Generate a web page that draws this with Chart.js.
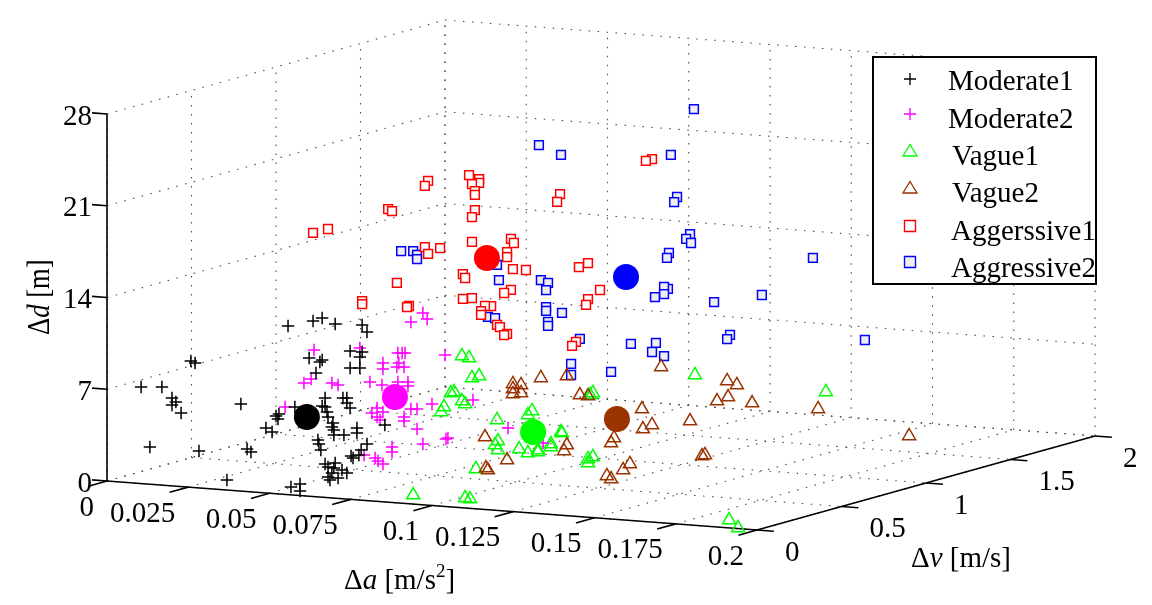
<!DOCTYPE html>
<html>
<head>
<meta charset="utf-8">
<title>Driving style clusters</title>
<script src="https://cdn.jsdelivr.net/npm/chart.js@4/dist/chart.umd.min.js"></script>
<style>
  html, body { margin: 0; padding: 0; background: #fff; }
  canvas { display: block; }
</style>
</head>
<body>
<canvas id="myChart" width="1152" height="605"></canvas>
<script>
// tick values and labels
const aTicks = [0, 0.025, 0.05, 0.075, 0.1, 0.125, 0.15, 0.175, 0.2];
const aTickLabels = ['0', '0.025', '0.05', '0.075', '0.1', '0.125', '0.15', '0.175', '0.2'];
const vTicks = [0, 0.5, 1, 1.5, 2];
const vTickLabels = ['0', '0.5', '1', '1.5', '2'];
const dTicks = [0, 7, 14, 21, 28];
const dTickLabels = ['0', '7', '14', '21', '28'];

// Moderate1
const moderate1A = [.0105,.0169,.0200,.0212,.0200,.0228,.0258,.0271,.0412,.0132,.0283,.0431,.0443,.0369,.0566,.0594,.0594,.0489,.0508,.0520,.0529,.0526,.0557,.0634,.0662,.0702,.0785,.0800,.0748,.0785,.0778,.0748,.0778,.0622,.0655,.0662,.0643,.0578,.0671,.0662,.0671,.0677,.0680,.0695,.0692,.0698,.0698,.0729,.0726,.0738,.0738,.0748,.0769,.0769,.0855,.0649,.0652,.0658,.0800,.0782,.0775,.0751,.0757,.0671,.0702,.0698,.0680,.0723,.0738,.0692,.0680,.0711,.0686];
const moderate1V = 0;
const moderate1D = [7.37,7.49,6.71,6.42,6.17,5.61,9.64,9.51,6.65,2.84,2.82,3.25,3.04,.77,.60,.88,.35,4.96,4.69,5.93,6.10,5.71,12.87,13.39,13.67,13.29,13.37,12.86,11.32,11.31,10.92,10.02,10.08,10.55,10.30,10.47,9.44,6.73,7.59,6.96,6.90,6.53,6.15,5.73,5.41,5.20,4.82,4.87,7.69,7.71,7.33,6.97,5.48,5.10,5.87,4.34,4.04,3.60,4.32,3.83,3.43,3.31,3.17,2.55,2.68,2.30,2.34,2.19,1.99,1.91,1.58,1.56,1.36];

// Moderate2
const moderate2A = [.0377,.0346,.0368,.0432,.0451,.0288,.0518,.0549,.0589,.0589,.0586,.0635,.0648,.0657,.0638,.0632,.0654,.0635,.0666,.0666,.0675,.0712,.0725,.0780,.0740,.0866,.0555,.0571,.0571,.0589,.0580,.0675,.0694,.0654,.0654,.0694,.0617,.0617,.0712,.0783,.0789,.0531,.0565,.0574,.0589,.0974,.1082];
const moderate2V = 0.5;
const moderate2D = [8.91,6.33,6.68,6.49,6.37,4.39,9.32,6.79,8.31,7.85,6.63,9.16,9.18,9.20,8.40,8.09,8.13,6.95,7.01,6.70,11.60,12.36,11.92,9.28,5.47,6.01,4.43,4.84,4.16,4.57,3.95,4.96,5.00,4.31,4.01,3.47,1.95,1.57,2.36,2.88,2.96,1.18,1.02,.81,.61,4.07,3.13];

// Vague1
const vague1A = [.0832,.0854,.0863,.0885,.0798,.0808,.0832,.0842,.0768,.0777,.0940,.1035,.1048,.1137,.1140,.1106,.1106,.1008,.1035,.1066,.1066,.0943,.0934,.0943,.0875,.1220,.1235,.1220,.1226,.1235,.1549,.1952,.0942,.1102,.1117,.1914,.1942];
const vague1V = [.5,.5,.5,.5,.5,.5,.5,.5,.5,.5,.5,.5,.5,.5,.5,.5,.5,.5,.5,.5,.5,.5,.5,.5,.5,.5,.5,.5,.5,.5,.5,.5,0,0,0,0,0];
const vague1D = [9.30,9.19,7.68,7.87,6.41,6.51,5.87,5.66,4.91,5.31,4.62,5.18,5.51,4.07,4.00,3.10,2.87,2.53,2.28,2.57,2.41,3.02,2.70,2.34,.76,2.17,2.35,1.86,7.06,7.23,9.19,8.65,.69,.76,.71,.60,.04];

// Vague2
const vague2A = [.0729,.0754,.0729,.0729,.0754,.0815,.0895,.0935,.0960,.1185,.1126,.1157,.1129,.1040,.1031,.0643,.0895,.0886,.0971,.0906,.0912,.1349,.1328,.1278,.1291,.1274,.1311,.1320,.1388,.1418,.1391,.1357,.1465,.1668,.1948];
const vague2V = [1,1,1,1,1,1,1,1,1,1,1,1,1,1,1,1,1,1,.5,.5,.5,.5,.5,.5,.5,1,1,1,1,1,1,1,1,1,1];
const vague2D = [5.18,5.15,4.80,4.42,4.54,5.80,6.10,4.72,4.69,7.33,4.01,2.85,2.49,1.64,1.24,.97,.83,.36,1.62,.89,.75,2.03,1.53,.98,.77,3.37,.77,.87,6.64,6.39,5.42,5.05,5.10,5.03,3.49];

// Aggressive1 (legend keeps the original spelling)
const aggressive1A = [.0114,.0160,.0345,.0357,.0468,.0458,.0594,.0625,.0625,.0603,.0612,.0612,.0612,.0603,.0603,.0458,.0468,.0505,.0372,.0265,.0265,.0409,.0403,.0575,.0582,.0723,.0732,.0711,.0711,.0729,.0723,.0702,.0575,.0603,.0662,.0643,.0631,.0631,.0680,.0689,.0711,.0702,.0769,.0932,.0960,.0997,.0960,.0954,.0923,.0911,.0874,.0865,.1157,.1138];
const aggressive1V = 1;
const aggressive1D = [15.55,15.94,17.81,17.68,20.18,19.78,20.87,20.62,20.32,20.20,19.68,19.38,18.23,17.68,15.78,15.12,14.61,15.13,12.22,10.64,10.41,10.53,10.44,13.28,12.99,16.23,15.94,15.21,14.83,13.95,12.34,12.07,11.38,11.50,11.00,10.97,10.56,10.26,9.59,9.45,8.96,8.86,13.95,14.48,14.84,12.85,12.09,11.63,8.75,8.42,19.94,19.32,23.14,22.96];

// Aggressive2
const aggressive2A = [.0125,.0162,.0174,.0174,.0426,.0420,.0555,.0577,.0571,.0571,.0571,.0620,.0577,.0577,.0392,.0414,.0675,.0648,.0648,.0771,.0832,.0897,.0909,.0934,.1137,.1128,.1026,.0955,.0974,.0965,.1014,.1002,.1017,.0949,.0943,.1392,.0946,.0934,.0934,.0906,.1088,.1235,.1552,.0549,.0617];
const aggressive2V = 1.5;
const aggressive2D = [12.40,12.47,12.19,11.88,10.75,11.89,10.99,10.81,10.26,8.96,8.66,8.60,7.83,7.53,7.87,7.83,6.72,4.76,3.92,4.38,6.63,6.14,6.85,5.90,7.89,7.56,24.92,21.28,18.11,17.71,15.36,14.96,14.68,13.79,13.40,14.24,11.04,11.17,10.63,10.35,10.31,11.12,8.28,21.28,20.65];

// cluster centres, same order as the legend
const centreA = [.0355, .0626, .1051, .1049, .0649, .0817];
const centreV = [0.5, 0.5, 0.5, 1, 1, 1.5];
const centreD = [3.75, 5.79, 3.91, 3.11, 14.64, 11.71];

const seriesNames = ['Moderate1', 'Moderate2', 'Vague1', 'Vague2', 'Aggerssive1', 'Aggressive2'];
const seriesColors = ['#000000', '#ff00ff', '#00ff00', '#993300', '#ff0000', '#0000ff'];

const SERIF = '"Liberation Serif", "Times New Roman", serif';
const FONT_PX = 29;

// oblique view of the box: one unit along each axis moves this far in the plane
function project(a, v, d){
    return {
        x: 107 + 3250 * a + 169 * v,
        y: 481 + 245 * a - 47 * v - 13.107 * d
    };
}

function toPoints(aList, v, dList){
    return aList.map((a, i) => project(a, Array.isArray(v) ? v[i] : v, dList[i]));
}

function lineDataset(from, to, color, width, dash, order){
    return {
        data: [project(...from), project(...to)],
        showLine: true,
        borderColor: color,
        borderWidth: width,
        borderDash: dash,
        pointRadius: 0,
        order: order,
        clip: false
    };
}

function gridDatasets(){
    const out = [];
    const add = (from, to) => out.push(lineDataset(from, to, '#4a4a4a', 1.1, [1.5, 7.5], 30));
    aTicks.forEach(a => {
        add([a, 0, 0], [a, 2, 0]);
        add([a, 2, 0], [a, 2, 28]);
    });
    vTicks.forEach(v => {
        add([0, v, 0], [0.2, v, 0]);
        add([0, v, 0], [0, v, 28]);
    });
    dTicks.forEach(d => {
        add([0, 0, d], [0, 2, d]);
        add([0, 2, d], [0.2, 2, d]);
    });
    return out;
}

function axisDatasets(){
    const out = [];
    const add = (from, to) => out.push(lineDataset(from, to, '#000000', 1.6, [], 20));
    add([0, 0, 0], [0, 0, 28]);
    add([0, 0, 0], [0.2, 0, 0]);
    add([0.2, 0, 0], [0.2, 2, 0]);
    // short tick marks run back along the neighbouring axis
    aTicks.forEach(a => add([a, 0, 0], [a, -0.11, 0]));
    vTicks.forEach(v => add([0.2, v, 0], [0.2052, v, 0]));
    dTicks.forEach(d => add([0, 0, d], [-0.0046, 0, d]));
    return out;
}

function markerDataset(points, color, style, radius, fill, order){
    return {
        data: points,
        pointStyle: style,
        pointRadius: radius,
        pointBorderColor: color,
        pointBackgroundColor: fill,
        pointBorderWidth: 1.5,
        showLine: false,
        order: order,
        clip: false
    };
}

const markerDatasets = [
    markerDataset(toPoints(moderate1A, moderate1V, moderate1D), seriesColors[0], 'cross', 6.2, 'transparent', 4),
    markerDataset(toPoints(moderate2A, moderate2V, moderate2D), seriesColors[1], 'cross', 6.2, 'transparent', 5),
    markerDataset(toPoints(vague1A, vague1V, vague1D), seriesColors[2], 'triangle', 7.5, 'transparent', 7),
    markerDataset(toPoints(vague2A, vague2V, vague2D), seriesColors[3], 'triangle', 7.5, 'transparent', 6),
    markerDataset(toPoints(aggressive1A, aggressive1V, aggressive1D), seriesColors[4], 'rect', 6.2, '#ffffff', 8),
    markerDataset(toPoints(aggressive2A, aggressive2V, aggressive2D), seriesColors[5], 'rect', 6.2, '#eeeeee', 9)
];

const centreDatasets = seriesColors.map((color, i) => ({
    data: [project(centreA[i], centreV[i], centreD[i])],
    pointStyle: 'circle',
    pointRadius: 13,
    pointBorderWidth: 0,
    pointBackgroundColor: color,
    showLine: false,
    order: 1,
    clip: false
}));

// text runs with mixed upright and italic faces, drawn from the current origin
function drawRuns(ctx, x, y, runs){
    let cx = x;
    runs.forEach(run => {
        const size = run.size || FONT_PX;
        ctx.font = (run.italic ? 'italic ' : '') + size + 'px ' + SERIF;
        ctx.fillText(run.text, cx, y + (run.rise || 0));
        cx += ctx.measureText(run.text).width;
    });
}

const axisText = {
    id: 'axisText',
    afterDatasetsDraw(chart){
        const ctx = chart.ctx;
        const sx = chart.scales.x;
        const sy = chart.scales.y;
        const at = (a, v, d) => {
            const p = project(a, v, d);
            return [sx.getPixelForValue(p.x), sy.getPixelForValue(p.y)];
        };
        ctx.save();
        ctx.fillStyle = '#000';
        ctx.font = FONT_PX + 'px ' + SERIF;
        ctx.textBaseline = 'middle';

        ctx.textAlign = 'right';
        aTicks.forEach((a, i) => {
            const [x, y] = at(a, 0, 0);
            ctx.fillText(aTickLabels[i], x - 13, y + 27);
        });
        dTicks.forEach((d, i) => {
            const [x, y] = at(0, 0, d);
            ctx.fillText(dTickLabels[i], x - 15, y + 3);
        });
        ctx.textAlign = 'left';
        vTicks.forEach((v, i) => {
            const [x, y] = at(0.2, v, 0);
            ctx.fillText(vTickLabels[i], x + 28, y + 23);
        });

        ctx.textBaseline = 'alphabetic';
        drawRuns(ctx, 344, 589, [
            { text: 'Δ' }, { text: 'a', italic: true }, { text: ' [m/s' },
            { text: '2', size: 19, rise: -12 }, { text: ']' }
        ]);
        drawRuns(ctx, 911, 567, [
            { text: 'Δ' }, { text: 'v', italic: true }, { text: ' [m/s]' }
        ]);
        // the vertical label is set a little narrow and tall
        ctx.translate(49, 335);
        ctx.rotate(-Math.PI / 2);
        ctx.scale(0.92, 1.1);
        drawRuns(ctx, 0, 0, [
            { text: 'Δ' }, { text: 'd', italic: true }, { text: ' [m]' }
        ]);
        ctx.restore();
    }
};

// boxed legend sitting over the back wall
const boxLegend = {
    id: 'boxLegend',
    afterDraw(chart){
        const ctx = chart.ctx;
        const rowsMarker = [79, 114, 151, 188, 226, 262];
        const rowsText = [82, 120, 157, 194, 232, 269];
        const textLeft = [948, 948, 952, 952, 951, 951];
        ctx.save();
        ctx.fillStyle = '#fff';
        ctx.fillRect(873, 57, 223, 227);
        ctx.strokeStyle = '#000';
        ctx.lineWidth = 2;
        ctx.strokeRect(873, 57, 223, 227);

        ctx.lineWidth = 1.35;
        seriesNames.forEach((name, i) => {
            const x = 910;
            const y = rowsMarker[i];
            ctx.strokeStyle = seriesColors[i];
            ctx.beginPath();
            if(i < 2){
                ctx.moveTo(x - 6, y);
                ctx.lineTo(x + 6, y);
                ctx.moveTo(x, y - 6);
                ctx.lineTo(x, y + 6);
            }
            else if(i < 4){
                ctx.moveTo(x, y - 6.5);
                ctx.lineTo(x + 7, y + 5);
                ctx.lineTo(x - 7, y + 5);
                ctx.closePath();
            }
            else{
                ctx.rect(x - 5.5, y - 5.5, 11, 11);
                if(i === 5){
                    ctx.fillStyle = '#eeeeee';
                    ctx.fill();
                }
            }
            ctx.stroke();

            ctx.fillStyle = '#000';
            ctx.font = FONT_PX + 'px ' + SERIF;
            ctx.textBaseline = 'middle';
            ctx.textAlign = 'left';
            ctx.fillText(name, textLeft[i], rowsText[i]);
        });
        ctx.restore();
    }
};

const myChart = new Chart(document.querySelector('#myChart').getContext('2d'), {
    type: 'scatter',
    data: {
        datasets: [...gridDatasets(), ...axisDatasets(), ...markerDatasets, ...centreDatasets]
    },
    options: {
        responsive: false,
        animation: false,
        events: [],
        layout: { padding: 0, autoPadding: false },
        plugins: {
            legend: { display: false },
            tooltip: { enabled: false }
        },
        scales: {
            x: { type: 'linear', display: false, min: 0, max: 1152 },
            y: { type: 'linear', display: false, min: 0, max: 605, reverse: true }
        }
    },
    plugins: [axisText, boxLegend]
});
</script>
</body>
</html>
